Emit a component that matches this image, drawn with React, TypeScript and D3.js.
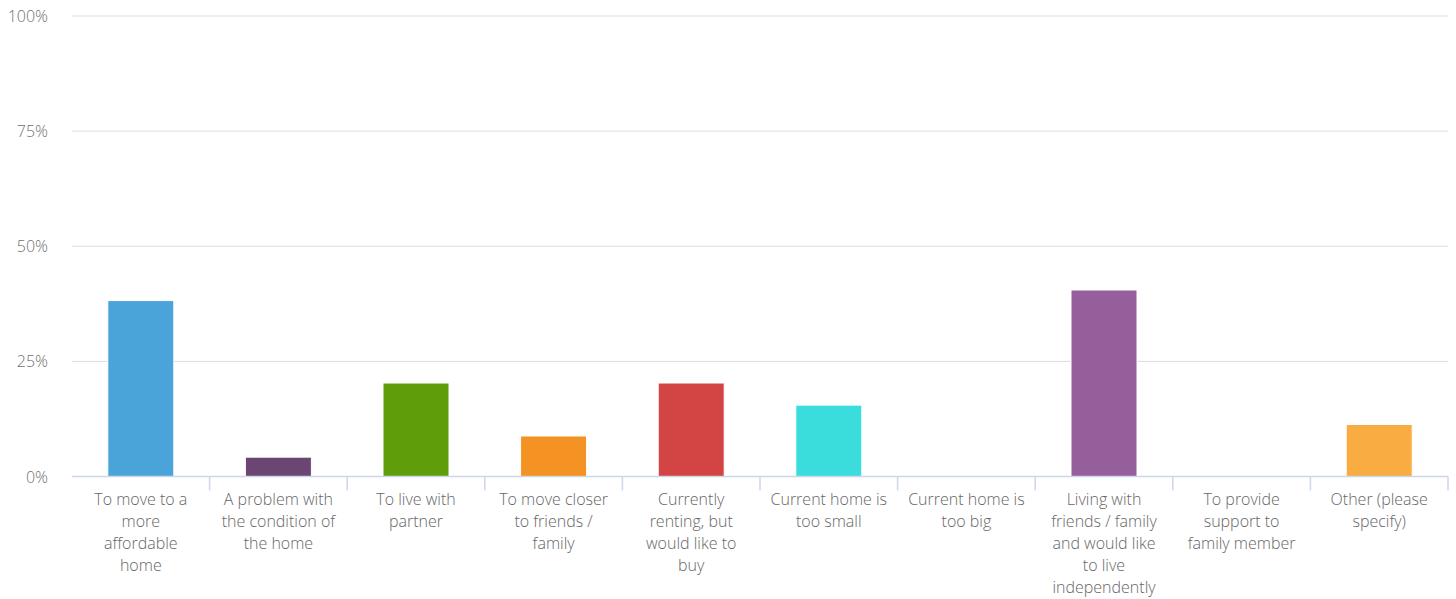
import React from "react";
import * as d3 from "d3";

const categories: string[][] = [
  ["To move to a", "more", "affordable", "home"],
  ["A problem with", "the condition of", "the home"],
  ["To live with", "partner"],
  ["To move closer", "to friends /", "family"],
  ["Currently", "renting, but", "would like to", "buy"],
  ["Current home is", "too small"],
  ["Current home is", "too big"],
  ["Living with", "friends / family", "and would like", "to live", "independently"],
  ["To provide", "support to", "family member"],
  ["Other (please", "specify)"],
];
const values: number[] = [38.2, 4.2, 20.3, 8.8, 20.3, 15.5, 0, 40.5, 0, 11.3];
const colors: string[] = [
  "#4aa3d9", "#6c4673", "#5f9e0a", "#f49223", "#d34444",
  "#3adcdc", "#9a9a9a", "#965e9a", "#cccccc", "#f9ac41",
];
const yTicks: number[] = [0, 25, 50, 75, 100];

export default function App() {
  const W = 1456, H = 599;
  const left = 72, right = 1448, top = 16, bottom = 476.5;
  const x = d3.scaleBand<number>().domain(d3.range(values.length)).range([left, right]).paddingInner(0).paddingOuter(0);
  const y = d3.scaleLinear().domain([0, 100]).range([bottom, top]);
  const bw = x.bandwidth();
  const barW = 66;
  const font = "'Open Sans', sans-serif";
  return (
    <svg width={W} height={H} style={{ position: "absolute", left: 0, top: 0 }} fontFamily={font}>
      <rect width={W} height={H} fill="#fff" />
      {yTicks.map((t) => (
        <g key={t}>
          {t > 0 && <line x1={left} x2={right} y1={y(t)} y2={y(t)} stroke="#dcdcdc" strokeWidth={1} />}
          <text x={48} y={y(t) + 6} textAnchor="end" fontSize={16} fill="#707070" fontWeight={300}>{t}%</text>
        </g>
      ))}
      {values.map((v, i) => (
        <rect key={i} x={x(i)! + bw / 2 - barW / 2} y={y(v)} width={barW} height={Math.max(0, y(0) - y(v))}
          fill={colors[i]} stroke="#fff" strokeWidth={1} />
      ))}
      <line x1={left} x2={right} y1={bottom} y2={bottom} stroke="#ccd6eb" strokeWidth={1.5} />
      {d3.range(1, values.length + 1).map((i) => {
        const tx = left + i * bw;
        return <line key={i} x1={tx} x2={tx} y1={bottom} y2={bottom + 14} stroke="#ccd6eb" strokeWidth={1.5} />;
      })}
      {categories.map((lines, i) => (
        <text key={i} textAnchor="middle" fontSize={16} fill="#666" fontWeight={300}>
          {lines.map((l, j) => (
            <tspan key={j} x={x(i)! + bw / 2} y={505 + j * 22}>{l}</tspan>
          ))}
        </text>
      ))}
    </svg>
  );
}
